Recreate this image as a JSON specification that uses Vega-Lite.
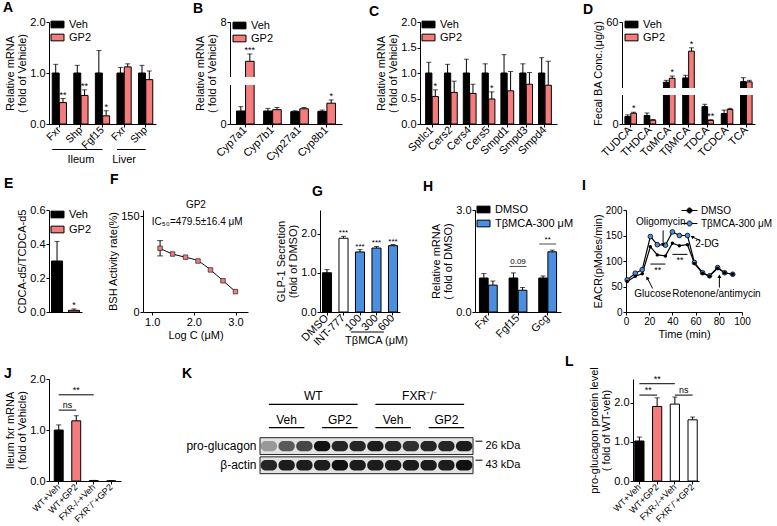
{
"$schema":"https://vega.github.io/schema/vega-lite/v6.json",
"background":"white",
"padding":{"left":3,"top":1,"right":0,"bottom":0},
"config":{
 "font":"Liberation Sans",
 "view":{"stroke":null},
 "axis":{"domainColor":"black","tickColor":"black","labelColor":"black","titleColor":"black","labelFontSize":11,"titleFontSize":11,"titleFontWeight":"normal","grid":false,"tickSize":3,"labelPadding":1,"titlePadding":2,"titleLineHeight":12,"labelFlush":false,"labelOverlap":false},
 "legend":{"labelFontSize":11,"labelColor":"black","symbolStrokeColor":"black","symbolStrokeWidth":1,"rowPadding":1,"labelOffset":6,"padding":0},
 "title":{"fontSize":14,"fontWeight":"bold","anchor":"start","frame":"group","offset":2,"color":"black"},
 "text":{"color":"black"}
},
"spacing":6,
"resolve":{"scale":{"color":"independent","opacity":"independent","xOffset":"independent"},"legend":{"color":"independent","opacity":"independent"}},
"vconcat":[
{"hconcat":[
 {"width":107,"height":102,"title":{"text":"A","dx":-46,"offset":1},
  "layer":[
   {"data":{"values":[
     {"gene":"Ileum|Fxr","trt":"Veh","mean":1.0,"hi":1.17},
     {"gene":"Ileum|Fxr","trt":"GP2","mean":0.42,"hi":0.5,"sig":"**"},
     {"gene":"Ileum|Shp","trt":"Veh","mean":1.0,"hi":1.15},
     {"gene":"Ileum|Shp","trt":"GP2","mean":0.56,"hi":0.67,"sig":"**"},
     {"gene":"Ileum|Fgf15","trt":"Veh","mean":1.0,"hi":1.44},
     {"gene":"Ileum|Fgf15","trt":"GP2","mean":0.16,"hi":0.26,"sig":"*"},
     {"gene":"Liver|Fxr","trt":"Veh","mean":1.0,"hi":1.11},
     {"gene":"Liver|Fxr","trt":"GP2","mean":1.12,"hi":1.18},
     {"gene":"Liver|Shp","trt":"Veh","mean":1.0,"hi":1.15},
     {"gene":"Liver|Shp","trt":"GP2","mean":0.87,"hi":1.04}]},
    "encoding":{
     "x":{"field":"gene","type":"nominal","scale":{"domain":["Ileum|Fxr","Ileum|Shp","Ileum|Fgf15","Liver|Fxr","Liver|Shp"],"paddingInner":0.34,"paddingOuter":0.15},"axis":{"title":null,"labelAngle":-45,"labelAlign":"right","labelBaseline":"middle","labelFontSize":10.5,"labelExpr":"split(datum.value,'|')[1]"}},
     "xOffset":{"field":"trt","type":"nominal","scale":{"domain":["Veh","GP2"],"paddingInner":0.05}},
     "y":{"field":"mean","type":"quantitative","scale":{"domain":[0,2]},"axis":{"title":["Relative mRNA","( fold of Vehicle)"],"values":[0,0.5,1,1.5,2],"format":".1f"}}},
    "layer":[
     {"mark":{"type":"rule","color":"black"},"encoding":{"y2":{"field":"hi"}}},
     {"mark":{"type":"bar","stroke":"black","strokeWidth":1},"encoding":{"color":{"field":"trt","type":"nominal","scale":{"domain":["Veh","GP2"],"range":["#000000","#F47C7C"]},"legend":{"title":null,"orient":"none","legendX":3,"legendY":-3,"symbolType":"M-1.3,-0.67H1.3V0.67H-1.3Z","symbolSize":100}}}},
     {"mark":{"type":"tick","orient":"horizontal","color":"black","size":5,"thickness":1},"encoding":{"y":{"field":"hi","type":"quantitative"}}},
     {"transform":[{"filter":"isValid(datum.sig)"}],"mark":{"type":"text","baseline":"alphabetic","dy":-1,"fontSize":9},"encoding":{"y":{"field":"hi","type":"quantitative"},"text":{"field":"sig"}}}
    ]},
   {"data":{"values":[{"grp":"Ileum","from":"Ileum|Fxr","to":"Ileum|Fgf15","mid":"Ileum|Shp"},{"grp":"Liver","from":"Liver|Fxr","to":"Liver|Shp","mid":"Liver|Fxr"}]},
    "layer":[
     {"mark":{"type":"rule","color":"black"},"encoding":{"x":{"field":"from","type":"nominal","bandPosition":0,"title":null},"x2":{"field":"to"},"y":{"datum":-0.5}}},
     {"mark":{"type":"text","fontSize":11,"baseline":"middle"},"encoding":{"x":{"field":"mid","type":"nominal","title":null},"y":{"datum":-0.71},"text":{"field":"grp"}}}
    ]}
  ]},
 {"hconcat":[
  {"width":112,"height":102,"title":{"text":"B","dx":-37,"offset":0},
   "layer":[
    {"data":{"values":[
      {"gene":"Cyp7a1","trt":"Veh","mean":1.0,"hi":1.33},
      {"gene":"Cyp7a1","trt":"GP2","mean":4.5,"hi":5.15,"sig":"***"},
      {"gene":"Cyp7b1","trt":"Veh","mean":1.0,"hi":1.2},
      {"gene":"Cyp7b1","trt":"GP2","mean":1.1,"hi":1.27},
      {"gene":"Cyp27a1","trt":"Veh","mean":0.95,"hi":1.01},
      {"gene":"Cyp27a1","trt":"GP2","mean":1.17,"hi":1.27},
      {"gene":"Cyp8b1","trt":"Veh","mean":0.97,"hi":1.07},
      {"gene":"Cyp8b1","trt":"GP2","mean":1.6,"hi":1.85,"sig":"*"}]},
     "encoding":{
      "x":{"field":"gene","type":"nominal","scale":{"domain":["Cyp7a1","Cyp7b1","Cyp27a1","Cyp8b1"],"paddingInner":0.35,"paddingOuter":0.24},"axis":{"title":null,"labelAngle":-45,"labelAlign":"right","labelBaseline":"middle"}},
      "xOffset":{"field":"trt","type":"nominal","scale":{"domain":["Veh","GP2"],"paddingInner":0.05}},
      "y":{"field":"mean","type":"quantitative","scale":{"domain":[0,3,3.1,8],"range":[102,63,55,0],"nice":false,"zero":false},"axis":{"title":["Relative mRNA","( fold of Vehicle)"],"values":[0,2,3,3.1,4,6,8],"labelExpr":"(datum.value==3||datum.value==3.1)?'':datum.label"}}},
     "layer":[
      {"mark":{"type":"rule","color":"black"},"encoding":{"y2":{"field":"hi"}}},
      {"mark":{"type":"bar","stroke":"black","strokeWidth":1},"encoding":{"color":{"field":"trt","type":"nominal","scale":{"domain":["Veh","GP2"],"range":["#000000","#F47C7C"]},"legend":{"title":null,"orient":"none","legendX":4,"legendY":-2,"symbolType":"M-1.3,-0.67H1.3V0.67H-1.3Z","symbolSize":100}}}},
      {"mark":{"type":"tick","orient":"horizontal","color":"black","size":5,"thickness":1},"encoding":{"y":{"field":"hi","type":"quantitative"}}},
      {"transform":[{"filter":"isValid(datum.sig)"}],"mark":{"type":"text","baseline":"alphabetic","dy":-1,"fontSize":9},"encoding":{"y":{"field":"hi","type":"quantitative"},"text":{"field":"sig"}}}
     ]},
    {"data":{"values":[{}]},"mark":{"type":"rect","fill":"white"},"encoding":{"y":{"datum":3},"y2":{"datum":3.1}}}
   ]},
  {"hconcat":[
   {"width":137,"height":102,"title":{"text":"C","dx":-51,"offset":-3},
    "data":{"values":[
      {"gene":"Sptlc1","trt":"Veh","mean":1.0,"hi":1.21},
      {"gene":"Sptlc1","trt":"GP2","mean":0.54,"hi":0.67,"sig":"*"},
      {"gene":"Cers2","trt":"Veh","mean":1.0,"hi":1.17},
      {"gene":"Cers2","trt":"GP2","mean":0.62,"hi":0.84},
      {"gene":"Cers4","trt":"Veh","mean":1.0,"hi":1.27},
      {"gene":"Cers4","trt":"GP2","mean":0.6,"hi":0.78},
      {"gene":"Cers5","trt":"Veh","mean":1.0,"hi":1.18},
      {"gene":"Cers5","trt":"GP2","mean":0.49,"hi":0.63,"sig":"*"},
      {"gene":"Smpd1","trt":"Veh","mean":1.0,"hi":1.36},
      {"gene":"Smpd1","trt":"GP2","mean":0.65,"hi":1.03},
      {"gene":"Smpd3","trt":"Veh","mean":1.0,"hi":1.18},
      {"gene":"Smpd3","trt":"GP2","mean":0.78,"hi":1.01},
      {"gene":"Smpd4","trt":"Veh","mean":1.0,"hi":1.3},
      {"gene":"Smpd4","trt":"GP2","mean":0.76,"hi":1.23}]},
    "encoding":{
     "x":{"field":"gene","type":"nominal","scale":{"domain":["Sptlc1","Cers2","Cers4","Cers5","Smpd1","Smpd3","Smpd4"],"paddingInner":0.32,"paddingOuter":0.3},"axis":{"title":null,"labelAngle":-45,"labelAlign":"right","labelBaseline":"middle"}},
     "xOffset":{"field":"trt","type":"nominal","scale":{"domain":["Veh","GP2"],"paddingInner":0.05}},
     "y":{"field":"mean","type":"quantitative","scale":{"domain":[0,2]},"axis":{"title":["Relative mRNA","( fold of Vehicle)"],"values":[0,0.5,1,1.5,2],"format":".1f"}}},
    "layer":[
     {"mark":{"type":"rule","color":"black"},"encoding":{"y2":{"field":"hi"}}},
     {"mark":{"type":"bar","stroke":"black","strokeWidth":1},"encoding":{"color":{"field":"trt","type":"nominal","scale":{"domain":["Veh","GP2"],"range":["#000000","#F47C7C"]},"legend":{"title":null,"orient":"none","legendX":3,"legendY":-3,"symbolType":"M-1.3,-0.67H1.3V0.67H-1.3Z","symbolSize":100}}}},
     {"mark":{"type":"tick","orient":"horizontal","color":"black","size":5,"thickness":1},"encoding":{"y":{"field":"hi","type":"quantitative"}}},
     {"transform":[{"filter":"isValid(datum.sig)"}],"mark":{"type":"text","baseline":"alphabetic","dy":-1,"fontSize":9},"encoding":{"y":{"field":"hi","type":"quantitative"},"text":{"field":"sig"}}}
    ]},
   {"width":133,"height":102,"title":{"text":"D","dx":-39,"offset":-1},
    "layer":[
     {"data":{"values":[
       {"ba":"TUDCA","trt":"Veh","mean":1.28,"hi":1.57},
       {"ba":"TUDCA","trt":"GP2","mean":1.86,"hi":2.03,"sig":"*"},
       {"ba":"THDCA","trt":"Veh","mean":1.45,"hi":1.9},
       {"ba":"THDCA","trt":"GP2","mean":0.65,"hi":0.78},
       {"ba":"TαMCA","trt":"Veh","mean":9.8,"hi":11.4},
       {"ba":"TαMCA","trt":"GP2","mean":13.1,"hi":15.0,"sig":"*"},
       {"ba":"TβMCA","trt":"Veh","mean":13.4,"hi":15.6},
       {"ba":"TβMCA","trt":"GP2","mean":35.7,"hi":38.5,"sig":"*"},
       {"ba":"TDCA","trt":"Veh","mean":3.0,"hi":3.4},
       {"ba":"TDCA","trt":"GP2","mean":0.6,"hi":0.75,"sig":"**"},
       {"ba":"TCDCA","trt":"Veh","mean":1.8,"hi":2.4},
       {"ba":"TCDCA","trt":"GP2","mean":2.5,"hi":2.7},
       {"ba":"TCA","trt":"Veh","mean":10.3,"hi":13.6},
       {"ba":"TCA","trt":"GP2","mean":10.1,"hi":11.4}]},
      "encoding":{
       "x":{"field":"ba","type":"nominal","scale":{"domain":["TUDCA","THDCA","TαMCA","TβMCA","TDCA","TCDCA","TCA"],"paddingInner":0.4,"paddingOuter":0.15},"axis":{"title":null,"labelAngle":-45,"labelAlign":"right","labelBaseline":"middle"}},
       "xOffset":{"field":"trt","type":"nominal","scale":{"domain":["Veh","GP2"],"paddingInner":0.05}},
       "y":{"field":"mean","type":"quantitative","scale":{"domain":[0,5,5.01,60],"range":[102,73,66,0],"nice":false,"zero":false},"axis":{"title":"Fecal BA Conc.(μg/g)","values":[0,4,5,5.01,20,40,60],"labelExpr":"(datum.value==5||datum.value==5.01)?'':datum.label"}}},
      "layer":[
       {"mark":{"type":"rule","color":"black"},"encoding":{"y2":{"field":"hi"}}},
       {"mark":{"type":"bar","stroke":"black","strokeWidth":1},"encoding":{"color":{"field":"trt","type":"nominal","scale":{"domain":["Veh","GP2"],"range":["#000000","#F47C7C"]},"legend":{"title":null,"orient":"none","legendX":4,"legendY":-3,"symbolType":"M-1.3,-0.67H1.3V0.67H-1.3Z","symbolSize":100}}}},
       {"mark":{"type":"tick","orient":"horizontal","color":"black","size":5,"thickness":1},"encoding":{"y":{"field":"hi","type":"quantitative"}}},
       {"transform":[{"filter":"isValid(datum.sig)"}],"mark":{"type":"text","baseline":"alphabetic","dy":-1,"fontSize":9},"encoding":{"y":{"field":"hi","type":"quantitative"},"text":{"field":"sig"}}}
      ]},
     {"data":{"values":[{}]},"mark":{"type":"rect","fill":"white"},"encoding":{"y":{"datum":5},"y2":{"datum":5.01}}}
    ]}
  ],"spacing":65,"bounds":"flush","resolve":{"scale":{"color":"independent","opacity":"independent","xOffset":"independent"},"legend":{"color":"independent","opacity":"independent"}}}
 ],"spacing":78,"bounds":"flush","resolve":{"scale":{"color":"independent","opacity":"independent","xOffset":"independent"},"legend":{"color":"independent","opacity":"independent"}}}
],"spacing":74,"bounds":"flush","resolve":{"scale":{"color":"independent","opacity":"independent","xOffset":"independent"},"legend":{"color":"independent","opacity":"independent"}}},
{"vconcat":[
 {"hconcat":[
  {"width":33,"height":102,"title":{"text":"E","dx":-45,"offset":13},
   "data":{"values":[{"trt":"Veh","mean":0.3,"hi":0.415},{"trt":"GP2","mean":0.01,"hi":0.018,"sig":"*"}]},
   "encoding":{
    "x":{"field":"trt","type":"nominal","scale":{"domain":["Veh","GP2"],"paddingInner":0.35,"paddingOuter":0.15},"axis":{"title":null,"labels":false,"ticks":false}},
    "y":{"field":"mean","type":"quantitative","scale":{"domain":[0,0.6]},"axis":{"title":"CDCA-d5/TCDCA-d5","values":[0,0.2,0.4,0.6],"format":".1f"}}},
   "layer":[
    {"mark":{"type":"rule","color":"black"},"encoding":{"y2":{"field":"hi"}}},
    {"mark":{"type":"bar","stroke":"black","strokeWidth":1},"encoding":{"color":{"field":"trt","type":"nominal","scale":{"domain":["Veh","GP2"],"range":["#000000","#F47C7C"]},"legend":{"title":null,"orient":"none","legendX":3,"legendY":-1,"rowPadding":3,"symbolType":"M-1.3,-0.67H1.3V0.67H-1.3Z","symbolSize":100}}}},
    {"mark":{"type":"tick","orient":"horizontal","color":"black","size":5,"thickness":1},"encoding":{"y":{"field":"hi","type":"quantitative"}}},
    {"transform":[{"filter":"isValid(datum.sig)"}],"mark":{"type":"text","baseline":"alphabetic","dy":-1,"fontSize":9},"encoding":{"y":{"field":"hi","type":"quantitative"},"text":{"field":"sig"}}}
   ]},
  {"hconcat":[
   {"width":105,"height":102,"title":{"text":"F","dx":-33,"offset":13},
    "layer":[
     {"data":{"values":[
       {"logc":1.19,"rate":100,"lo":88,"hi":112},
       {"logc":1.49,"rate":91},
       {"logc":1.8,"rate":86},
       {"logc":2.1,"rate":80},
       {"logc":2.4,"rate":66},
       {"logc":2.7,"rate":49},
       {"logc":3.0,"rate":32}]},
      "encoding":{
       "x":{"field":"logc","type":"quantitative","scale":{"domain":[0.78,3.3],"nice":false,"zero":false},"axis":{"title":"Log C (μM)","values":[1,1.5,2,2.5,3],"format":".1f"}},
       "y":{"field":"rate","type":"quantitative","scale":{"domain":[0,150]},"axis":{"title":"BSH Activity rate(%)","values":[0,50,100,150]}}},
      "layer":[
       {"mark":{"type":"line","color":"black","strokeWidth":1,"interpolate":"monotone"}},
       {"transform":[{"filter":"isValid(datum.hi)"}],"mark":{"type":"rule","color":"black"},"encoding":{"y":{"field":"lo","type":"quantitative"},"y2":{"field":"hi"}}},
       {"transform":[{"filter":"isValid(datum.hi)"}],"mark":{"type":"tick","orient":"horizontal","color":"black","size":6,"thickness":1},"encoding":{"y":{"field":"hi","type":"quantitative"}}},
       {"transform":[{"filter":"isValid(datum.hi)"}],"mark":{"type":"tick","orient":"horizontal","color":"black","size":6,"thickness":1},"encoding":{"y":{"field":"lo","type":"quantitative"}}},
       {"mark":{"type":"point","shape":"square","filled":true,"color":"#F47C7C","stroke":"#333333","strokeWidth":0.8,"size":20,"opacity":1}}
      ]},
     {"data":{"values":[{}]},"mark":{"type":"text","fontSize":10},"encoding":{"x":{"datum":2.08},"y":{"datum":141},"text":{"value":"IC₅₀=479.5±16.4 μM"}}},
     {"data":{"values":[{}]},"mark":{"type":"text","fontSize":10},"encoding":{"x":{"datum":2.05},"y":{"datum":168},"text":{"value":"GP2"}}}
    ]},
   {"hconcat":[
    {"width":80,"height":102,"title":{"text":"G","dx":-8,"offset":11},
     "layer":[
      {"data":{"values":[
        {"cond":"DMSO","kind":"DMSO","mean":1.0,"hi":1.08},
        {"cond":"INT-777","kind":"INT-777","mean":1.88,"hi":1.93,"sig":"***"},
        {"cond":"100","kind":"TβMCA","mean":1.53,"hi":1.59,"sig":"***"},
        {"cond":"300","kind":"TβMCA","mean":1.63,"hi":1.67,"sig":"***"},
        {"cond":"600","kind":"TβMCA","mean":1.69,"hi":1.72,"sig":"***"}]},
       "encoding":{
        "x":{"field":"cond","type":"nominal","scale":{"domain":["DMSO","INT-777","100","300","600"],"paddingInner":0.45,"paddingOuter":0.15},"axis":{"title":null,"labelAngle":-45,"labelAlign":"right","labelBaseline":"middle"}},
        "y":{"field":"mean","type":"quantitative","scale":{"domain":[0,2.5]},"axis":{"title":["GLP-1 Secretion","(fold of DMSO)"],"values":[0,0.5,1,1.5,2,2.5],"format":".1f"}}},
       "layer":[
        {"mark":{"type":"rule","color":"black"},"encoding":{"y2":{"field":"hi"}}},
        {"mark":{"type":"bar","stroke":"black","strokeWidth":1},"encoding":{"color":{"field":"kind","type":"nominal","scale":{"domain":["DMSO","INT-777","TβMCA"],"range":["#000000","#FFFFFF","#4A8FE0"]},"legend":null}}},
        {"mark":{"type":"tick","orient":"horizontal","color":"black","size":5,"thickness":1},"encoding":{"y":{"field":"hi","type":"quantitative"}}},
        {"transform":[{"filter":"isValid(datum.sig)"}],"mark":{"type":"text","baseline":"alphabetic","dy":-1,"fontSize":8},"encoding":{"y":{"field":"hi","type":"quantitative"},"text":{"field":"sig"}}}
       ]},
      {"data":{"values":[{}]},"mark":{"type":"rule","color":"black"},"encoding":{"x":{"datum":"100","bandPosition":-0.5},"x2":{"datum":"600","bandPosition":-0.5},"y":{"datum":-0.51}}},
      {"data":{"values":[{}]},"mark":{"type":"text","fontSize":11,"baseline":"middle"},"encoding":{"x":{"datum":"300"},"y":{"datum":-0.75},"text":{"value":"TβMCA (μM)"}}}
     ]},
    {"hconcat":[
     {"width":86,"height":102,"title":{"text":"H","dx":-52,"offset":10},
      "layer":[
       {"data":{"values":[
         {"gene":"Fxr","trt":"DMSO","mean":1.0,"hi":1.13},
         {"gene":"Fxr","trt":"TβMCA-300 μM","mean":0.79,"hi":0.91},
         {"gene":"Fgf15","trt":"DMSO","mean":1.0,"hi":1.15},
         {"gene":"Fgf15","trt":"TβMCA-300 μM","mean":0.64,"hi":0.72},
         {"gene":"Gcg","trt":"DMSO","mean":1.0,"hi":1.06},
         {"gene":"Gcg","trt":"TβMCA-300 μM","mean":1.77,"hi":1.82}]},
        "encoding":{
         "x":{"field":"gene","type":"nominal","scale":{"domain":["Fxr","Fgf15","Gcg"],"paddingInner":0.4,"paddingOuter":0.15},"axis":{"title":null,"labelAngle":-45,"labelAlign":"right","labelBaseline":"middle"}},
         "xOffset":{"field":"trt","type":"nominal","scale":{"domain":["DMSO","TβMCA-300 μM"],"paddingInner":0.05}},
         "y":{"field":"mean","type":"quantitative","scale":{"domain":[0,3]},"axis":{"title":["Relative mRNA","( fold of DMSO)"],"values":[0,1,2,3],"format":".1f"}}},
        "layer":[
         {"mark":{"type":"rule","color":"black"},"encoding":{"y2":{"field":"hi"}}},
         {"mark":{"type":"bar","stroke":"black","strokeWidth":1},"encoding":{"color":{"field":"trt","type":"nominal","scale":{"domain":["DMSO","TβMCA-300 μM"],"range":["#000000","#4A8FE0"]},"legend":{"title":null,"orient":"none","legendX":3,"legendY":-6,"rowPadding":2,"symbolType":"M-1.3,-0.67H1.3V0.67H-1.3Z","symbolSize":100}}}},
         {"mark":{"type":"tick","orient":"horizontal","color":"black","size":5,"thickness":1},"encoding":{"y":{"field":"hi","type":"quantitative"}}}
        ]},
       {"data":{"values":[{"gene":"Fgf15","level":1.34,"label":"0.09"},{"gene":"Gcg","level":2.0,"label":"**"}]},
        "layer":[
         {"mark":{"type":"tick","orient":"horizontal","color":"black","size":17,"thickness":1},"encoding":{"x":{"field":"gene","type":"nominal","title":null},"y":{"field":"level","type":"quantitative"}}},
         {"mark":{"type":"text","fontSize":8,"baseline":"alphabetic","dy":-2},"encoding":{"x":{"field":"gene","type":"nominal","title":null},"y":{"field":"level","type":"quantitative"},"text":{"field":"label"}}}
        ]}
      ]},
     {"width":116,"height":102,"title":{"text":"I","dx":-44,"offset":12},
      "encoding":{
       "x":{"field":"t","type":"quantitative","scale":{"domain":[0,100],"nice":false},"axis":{"title":"Time (min)","values":[0,20,40,60,80,100],"labelFontSize":10,"labelOverlap":false,"labelSeparation":0}},
       "y":{"field":"ecar","type":"quantitative","scale":{"domain":[0,200]},"axis":{"title":"EACR(pMoles/min)","values":[0,50,100,150,200],"labelFontSize":10,"labelOverlap":false}}},
      "layer":[
       {"data":{"values":[
         {"t":1,"trt":"DMSO","ecar":60},{"t":8,"trt":"DMSO","ecar":70},{"t":14,"trt":"DMSO","ecar":75},{"t":21,"trt":"DMSO","ecar":128},{"t":27,"trt":"DMSO","ecar":112},{"t":34,"trt":"DMSO","ecar":110},{"t":40,"trt":"DMSO","ecar":135},{"t":46,"trt":"DMSO","ecar":130},{"t":53,"trt":"DMSO","ecar":132},{"t":59,"trt":"DMSO","ecar":95},{"t":66,"trt":"DMSO","ecar":76},{"t":72,"trt":"DMSO","ecar":70},{"t":79,"trt":"DMSO","ecar":86},{"t":85,"trt":"DMSO","ecar":77},{"t":92,"trt":"DMSO","ecar":74},
         {"t":1,"trt":"TβMCA-300 μM","ecar":63},{"t":8,"trt":"TβMCA-300 μM","ecar":76},{"t":14,"trt":"TβMCA-300 μM","ecar":83},{"t":21,"trt":"TβMCA-300 μM","ecar":148},{"t":27,"trt":"TβMCA-300 μM","ecar":132},{"t":34,"trt":"TβMCA-300 μM","ecar":131},{"t":40,"trt":"TβMCA-300 μM","ecar":157},{"t":46,"trt":"TβMCA-300 μM","ecar":150},{"t":53,"trt":"TβMCA-300 μM","ecar":150},{"t":59,"trt":"TβMCA-300 μM","ecar":97},{"t":66,"trt":"TβMCA-300 μM","ecar":77},{"t":72,"trt":"TβMCA-300 μM","ecar":71},{"t":79,"trt":"TβMCA-300 μM","ecar":87},{"t":85,"trt":"TβMCA-300 μM","ecar":77},{"t":92,"trt":"TβMCA-300 μM","ecar":74}]},
        "layer":[
         {"mark":{"type":"line","color":"black","strokeWidth":1.2},"encoding":{"detail":{"field":"trt"}}},
         {"transform":[{"filter":"datum.trt != 'DMSO'"}],"mark":{"type":"point","filled":true,"size":22,"stroke":"black","strokeWidth":0.8,"opacity":1},"encoding":{"color":{"field":"trt","type":"nominal","scale":{"domain":["DMSO","TβMCA-300 μM"],"range":["#000000","#4A8FE0"]},"legend":{"title":null,"orient":"none","legendX":58,"legendY":-5,"labelFontSize":10,"symbolType":"M-1.6,0H-0.5M0.5,0H1.6M-0.5,0A0.5,0.5 0 1,0 0.5,0A0.5,0.5 0 1,0 -0.5,0Z","symbolSize":100,"labelOffset":6,"rowPadding":2}}}},
         {"transform":[{"filter":"datum.trt == 'DMSO'"}],"mark":{"type":"point","filled":true,"size":12,"opacity":1},"encoding":{"color":{"field":"trt","type":"nominal","scale":{"domain":["DMSO","TβMCA-300 μM"],"range":["#000000","#4A8FE0"]}}}}
        ]},
       {"data":{"values":[
         {"label":"Oligomycin","t":30,"ecar":176},
         {"label":"2-DG","t":70,"ecar":134},
         {"label":"Glucose","t":23,"ecar":35},
         {"label":"Rotenone/antimycin","t":78,"ecar":36}]},
        "mark":{"type":"text","fontSize":10,"baseline":"middle"},
        "encoding":{"text":{"field":"label"}}},
       {"data":{"values":[
         {"label":"Oligomycin","t":32,"ecar":133,"t2":32,"ecar2":160},
         {"label":"2-DG","t":57.5,"ecar":147,"t2":64,"ecar2":140},
         {"label":"Glucose","t":18.5,"ecar":66,"t2":23,"ecar2":46},
         {"label":"Rotenone/antimycin","t":80.5,"ecar":69,"t2":80.5,"ecar2":48}]},
        "layer":[
         {"mark":{"type":"rule","color":"black"},"encoding":{"x2":{"field":"t2"},"y2":{"field":"ecar2"}}},
         {"transform":[{"filter":"datum.label=='Oligomycin'"}],"mark":{"type":"point","shape":"triangle","filled":true,"color":"black","size":16,"angle":180,"opacity":1}},
         {"transform":[{"filter":"datum.label=='2-DG'"}],"mark":{"type":"point","shape":"triangle","filled":true,"color":"black","size":16,"angle":-60,"opacity":1}},
         {"transform":[{"filter":"datum.label=='Glucose'"}],"mark":{"type":"point","shape":"triangle","filled":true,"color":"black","size":16,"angle":-32,"opacity":1}},
         {"transform":[{"filter":"datum.label=='Rotenone/antimycin'"}],"mark":{"type":"point","shape":"triangle","filled":true,"color":"black","size":16,"angle":0,"opacity":1}}
        ]},
       {"data":{"values":[{"t":21,"t2":34,"ecar":94,"label":"**"},{"t":40,"t2":53,"ecar":113,"label":"**"}]},
        "layer":[
         {"mark":{"type":"rule","color":"black"},"encoding":{"x2":{"field":"t2"}}},
         {"mark":{"type":"text","fontSize":9,"baseline":"top","dy":2,"dx":7.5},"encoding":{"text":{"field":"label"}}}
        ]}
      ]}
    ],"spacing":65,"bounds":"flush","resolve":{"scale":{"color":"independent","opacity":"independent","xOffset":"independent"},"legend":{"color":"independent","opacity":"independent"}}}
   ],"spacing":75,"bounds":"flush","resolve":{"scale":{"color":"independent","opacity":"independent","xOffset":"independent"},"legend":{"color":"independent","opacity":"independent"}}}
  ],"spacing":72,"bounds":"flush","resolve":{"scale":{"color":"independent","opacity":"independent","xOffset":"independent"},"legend":{"color":"independent","opacity":"independent"}}}
 ],"spacing":61,"bounds":"flush","resolve":{"scale":{"color":"independent","opacity":"independent","xOffset":"independent"},"legend":{"color":"independent","opacity":"independent"}}},
 {"hconcat":[
  {"width":72,"height":102,"title":{"text":"J","dx":-45,"offset":-8},
   "layer":[
    {"data":{"values":[
      {"grp":"WT+Veh","mean":1.0,"hi":1.1},
      {"grp":"WT+GP2","mean":1.18,"hi":1.28},
      {"grp":"FXR-/-+Veh","mean":0.008,"hi":0.012},
      {"grp":"FXR⁻/⁻+GP2","mean":0.003,"hi":0.005}]},
     "encoding":{
      "x":{"field":"grp","type":"nominal","scale":{"domain":["WT+Veh","WT+GP2","FXR-/-+Veh","FXR⁻/⁻+GP2"],"paddingInner":0.49,"paddingOuter":0.3},"axis":{"title":null,"labelAngle":-45,"labelAlign":"right","labelBaseline":"middle","labelFontSize":9}},
      "y":{"field":"mean","type":"quantitative","scale":{"domain":[0,2]},"axis":{"title":["Ileum fxr mRNA","( fold of Vehicle)"],"values":[0,0.5,1,1.5,2],"format":".1f"}}},
     "layer":[
      {"mark":{"type":"rule","color":"black"},"encoding":{"y2":{"field":"hi"}}},
      {"mark":{"type":"bar","stroke":"black","strokeWidth":1},"encoding":{"color":{"field":"grp","type":"nominal","scale":{"domain":["WT+Veh","WT+GP2","FXR-/-+Veh","FXR⁻/⁻+GP2"],"range":["#000000","#F47C7C","#FFFFFF","#FFFFFF"]},"legend":null}}},
      {"mark":{"type":"tick","orient":"horizontal","color":"black","size":5,"thickness":1},"encoding":{"y":{"field":"hi","type":"quantitative"}}}
     ]},
    {"data":{"values":[
      {"from":"WT+Veh","to":"WT+GP2","mid":"WT+Veh","level":1.39,"label":"ns"},
      {"from":"WT+Veh","to":"FXR-/-+Veh","mid":"WT+GP2","level":1.69,"label":"**"}]},
     "layer":[
      {"mark":{"type":"rule","color":"black"},"encoding":{"x":{"field":"from","type":"nominal","title":null},"x2":{"field":"to"},"y":{"field":"level","type":"quantitative"}}},
      {"transform":[{"filter":"datum.mid == datum.from"}],"mark":{"type":"text","fontSize":9,"baseline":"alphabetic","dy":-2,"dx":8.8},"encoding":{"x":{"field":"mid","type":"nominal","title":null},"y":{"field":"level","type":"quantitative"},"text":{"field":"label"}}},
      {"transform":[{"filter":"datum.mid != datum.from"}],"mark":{"type":"text","fontSize":9,"baseline":"alphabetic","dy":-2},"encoding":{"x":{"field":"mid","type":"nominal","title":null},"y":{"field":"level","type":"quantitative"},"text":{"field":"label"}}}
     ]}
   ]},
  {"hconcat":[
   {"title":{"text":"K","dx":-78,"offset":-2},
    "vconcat":[
     {"width":213,"height":52,
      "data":{"values":[
        {"set":"WT","level":"genotype","label":"WT","from":1,"to":6},
        {"set":"FXR","level":"genotype","label":"FXR⁻/⁻","from":7,"to":12},
        {"set":"WT-Veh","level":"treatment","label":"Veh","from":1,"to":3},
        {"set":"WT-GP2","level":"treatment","label":"GP2","from":4,"to":6},
        {"set":"FXR-Veh","level":"treatment","label":"Veh","from":7,"to":9},
        {"set":"FXR-GP2","level":"treatment","label":"GP2","from":10,"to":12}]},
      "encoding":{"y":{"field":"level","type":"ordinal","scale":{"type":"point","domain":["genotype","treatment"],"range":[25.3,48.7],"padding":0},"axis":null}},
      "layer":[
       {"mark":{"type":"rule","color":"black","strokeWidth":1.2},"encoding":{"x":{"field":"from","type":"quantitative","scale":{"domain":[0.5,12.5],"nice":false,"zero":false},"axis":null},"x2":{"field":"to"}}},
       {"transform":[{"fold":["from","to"],"as":["end","lane"]}],"mark":{"type":"text","fontSize":12,"baseline":"alphabetic","dy":-4},"encoding":{"x":{"aggregate":"mean","field":"lane","type":"quantitative"},"text":{"field":"label"},"detail":{"field":"set"}}}
      ]},
     {"width":213,"height":36,
      "encoding":{"y":{"field":"protein","type":"nominal","scale":{"domain":["pro-glucagon","β-actin"],"paddingInner":0.12,"paddingOuter":0}}},
      "layer":[
       {"data":{"values":[{"protein":"pro-glucagon"},{"protein":"β-actin"}]},
        "mark":{"type":"rect","fill":"#E2E2E2","stroke":"#222222","strokeWidth":1},
        "encoding":{"y":{"field":"protein","type":"nominal","axis":{"orient":"right","title":null,"domain":false,"labelExpr":"datum.value=='pro-glucagon'?'26 kDa':'43 kDa'","tickSize":7,"offset":2,"bandPosition":0.2,"labelPadding":3,"labelFontSize":11}}}},
       {"data":{"values":[
         {"lane":1,"protein":"pro-glucagon","intensity":0.35},{"lane":2,"protein":"pro-glucagon","intensity":0.65},{"lane":3,"protein":"pro-glucagon","intensity":0.75},{"lane":4,"protein":"pro-glucagon","intensity":1.0},{"lane":5,"protein":"pro-glucagon","intensity":0.9},{"lane":6,"protein":"pro-glucagon","intensity":0.9},{"lane":7,"protein":"pro-glucagon","intensity":0.95},{"lane":8,"protein":"pro-glucagon","intensity":0.9},{"lane":9,"protein":"pro-glucagon","intensity":0.85},{"lane":10,"protein":"pro-glucagon","intensity":0.9},{"lane":11,"protein":"pro-glucagon","intensity":0.9},{"lane":12,"protein":"pro-glucagon","intensity":0.95},
         {"lane":1,"protein":"β-actin","intensity":0.9},{"lane":2,"protein":"β-actin","intensity":0.95},{"lane":3,"protein":"β-actin","intensity":0.95},{"lane":4,"protein":"β-actin","intensity":0.95},{"lane":5,"protein":"β-actin","intensity":1.0},{"lane":6,"protein":"β-actin","intensity":0.95},{"lane":7,"protein":"β-actin","intensity":0.95},{"lane":8,"protein":"β-actin","intensity":0.95},{"lane":9,"protein":"β-actin","intensity":0.95},{"lane":10,"protein":"β-actin","intensity":0.95},{"lane":11,"protein":"β-actin","intensity":0.95},{"lane":12,"protein":"β-actin","intensity":1.0}]},
        "mark":{"type":"rect","fill":"#111111","cornerRadius":5,"width":{"band":0.92},"height":{"band":0.62}},
        "encoding":{
         "x":{"field":"lane","type":"ordinal","scale":{"paddingInner":0,"paddingOuter":0},"axis":null},
         "y":{"field":"protein","type":"nominal","axis":{"title":null,"domain":false,"ticks":false,"labelFontSize":12,"labelPadding":4}},
         "opacity":{"field":"intensity","type":"quantitative","scale":{"domain":[0,1],"range":[0,1]},"legend":null}}}
      ],
      "resolve":{"axis":{"y":"independent"}}}
    ],"spacing":6.7,"bounds":"flush"},
   {"width":66,"height":102,"title":{"text":"L","dx":-68,"offset":-2},
    "layer":[
     {"data":{"values":[
       {"grp":"WT+Veh","mean":1.02,"hi":1.12},
       {"grp":"WT+GP2","mean":1.9,"hi":2.12},
       {"grp":"FXR-/-+Veh","mean":1.96,"hi":2.14},
       {"grp":"FXR⁻/⁻+GP2","mean":1.56,"hi":1.63}]},
      "encoding":{
       "x":{"field":"grp","type":"nominal","scale":{"domain":["WT+Veh","WT+GP2","FXR-/-+Veh","FXR⁻/⁻+GP2"],"paddingInner":0.48,"paddingOuter":0.1},"axis":{"title":null,"labelAngle":-45,"labelAlign":"right","labelBaseline":"middle","labelFontSize":9}},
       "y":{"field":"mean","type":"quantitative","scale":{"domain":[0,2.5]},"axis":{"title":["pro-glucagon protein level","( fold of WT-veh)"],"values":[0,0.5,1,1.5,2,2.5],"format":".1f"}}},
      "layer":[
       {"mark":{"type":"rule","color":"black"},"encoding":{"y2":{"field":"hi"}}},
       {"mark":{"type":"bar","stroke":"black","strokeWidth":1},"encoding":{"color":{"field":"grp","type":"nominal","scale":{"domain":["WT+Veh","WT+GP2","FXR-/-+Veh","FXR⁻/⁻+GP2"],"range":["#000000","#F47C7C","#FFFFFF","#FFFFFF"]},"legend":null}}},
       {"mark":{"type":"tick","orient":"horizontal","color":"black","size":5,"thickness":1},"encoding":{"y":{"field":"hi","type":"quantitative"}}}
      ]},
     {"data":{"values":[
       {"from":"WT+Veh","to":"WT+GP2","mid":"WT+Veh","level":2.19,"label":"**"},
       {"from":"WT+Veh","to":"FXR-/-+Veh","mid":"WT+GP2","level":2.48,"label":"**"},
       {"from":"FXR-/-+Veh","to":"FXR⁻/⁻+GP2","mid":"FXR-/-+Veh","level":2.19,"label":"ns"}]},
      "layer":[
       {"mark":{"type":"rule","color":"black"},"encoding":{"x":{"field":"from","type":"nominal","title":null},"x2":{"field":"to"},"y":{"field":"level","type":"quantitative"}}},
       {"transform":[{"filter":"datum.mid == datum.from"}],"mark":{"type":"text","fontSize":9,"baseline":"alphabetic","dy":-2,"dx":8.9},"encoding":{"x":{"field":"mid","type":"nominal","title":null},"y":{"field":"level","type":"quantitative"},"text":{"field":"label"}}},
       {"transform":[{"filter":"datum.mid != datum.from"}],"mark":{"type":"text","fontSize":9,"baseline":"alphabetic","dy":-2},"encoding":{"x":{"field":"mid","type":"nominal","title":null},"y":{"field":"level","type":"quantitative"},"text":{"field":"label"}}}
      ]}
    ]}
  ],"spacing":373,"bounds":"flush","resolve":{"scale":{"color":"independent","opacity":"independent","xOffset":"independent"},"legend":{"color":"independent","opacity":"independent"}}}
 ],"spacing":139,"bounds":"flush","resolve":{"scale":{"color":"independent","opacity":"independent","xOffset":"independent"},"legend":{"color":"independent","opacity":"independent"}}}
],"spacing":6,"resolve":{"scale":{"color":"independent","opacity":"independent","xOffset":"independent"},"legend":{"color":"independent","opacity":"independent"}}}
]
}
